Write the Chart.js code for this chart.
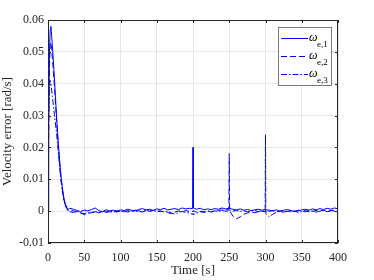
<!DOCTYPE html>
<html>
<head>
<meta charset="utf-8">
<script src="https://cdn.jsdelivr.net/npm/chart.js@4/dist/chart.umd.min.js"></script>
<style>
  html, body { margin: 0; padding: 0; background: #fff; }
  #wrap { width: 374px; height: 280px; }
</style>
</head>
<body>
<div id="wrap"><canvas id="velChart" width="374" height="280"></canvas></div>
<script>
    // Tiempo [s]
    const tiempos = [
        0, 1, 2, 3, 4, 5, 6, 8, 10, 12, 14, 16, 18, 20, 22, 24, 26, 28, 30,
        35, 40, 45, 50, 55, 60, 65, 70, 75, 80, 85, 90, 95, 100, 105, 110, 115, 120,
        125, 130, 135, 140, 145, 150, 155, 160, 165, 170, 175, 180, 185, 190, 195,
        199.5, 200, 200.5,
        205, 210, 215, 220, 225, 230, 235, 240, 245,
        249.5, 250, 250.5,
        255, 260, 265, 270, 275, 280, 285, 290, 295,
        299.5, 300, 300.5,
        305, 310, 315, 320, 325, 330, 335, 340, 345, 350, 355, 360, 365, 370, 375,
        380, 385, 390, 395, 400
    ];

    // omega_e,1 (solid)
    const omegaE1 = [
        0, 0.030, 0.050, 0.057, 0.058, 0.055, 0.052, 0.045, 0.037, 0.029, 0.022, 0.016, 0.011, 0.007, 0.004, 0.0022, 0.0012, 0.0006, 0.0009,
        0.0006, 0.0002, -0.0001, 0.0003, 0.0001, 0.0005, 0.0010, 0.0002, -0.0002, 0.0004, 0.0001, 0.0003, 0.0000, 0.0004, 0.0002, 0.0006, 0.0003,
        0.0001, 0.0005, 0.0008, 0.0004, 0.0006, 0.0002, 0.0007, 0.0005, 0.0009, 0.0004, 0.0006, 0.0008, 0.0005, 0.0010, 0.0007, 0.0009,
        0.0008, 0.0200, 0.0010,
        0.0006, 0.0009, 0.0004, 0.0007, 0.0005, 0.0008, 0.0006, 0.0010, 0.0007,
        0.0009, 0.0011, 0.0008,
        0.0006, 0.0004, 0.0007, 0.0003, 0.0005, 0.0002, 0.0004, 0.0006, 0.0003,
        0.0005, 0.0006, 0.0004,
        0.0003, 0.0001, 0.0004, 0.0000, 0.0003, 0.0005, 0.0002, -0.0002, 0.0001, 0.0004,
        0.0006, 0.0003, 0.0007, 0.0004, 0.0008, 0.0005, 0.0009, 0.0006, 0.0010, 0.0007
    ];

    // omega_e,2 (dashed)
    const omegaE2 = [
        0, 0.025, 0.045, 0.052, 0.053, 0.051, 0.048, 0.042, 0.035, 0.028, 0.021, 0.015, 0.010, 0.0065, 0.0035, 0.0018, 0.0008, 0.0002, 0.0004,
        0.0001, -0.0003, -0.0006, -0.0011, -0.0008, -0.0004, -0.0002, -0.0005, -0.0001, -0.0004, -0.0002, 0.0000, -0.0003, 0.0001, -0.0002, 0.0002, -0.0001,
        0.0003, 0.0000, -0.0003, 0.0002, -0.0001, 0.0003, 0.0001, -0.0002, 0.0000, -0.0004, -0.0008, -0.0003, 0.0001, -0.0002, 0.0002, -0.0001,
        0.0000, -0.0002, 0.0001,
        -0.0003, 0.0000, -0.0002, 0.0001, -0.0003, 0.0000, 0.0002, 0.0004, 0.0003,
        0.0005, 0.0180, 0.0002,
        -0.0016, -0.0024, -0.0018, -0.0010, -0.0006, -0.0003, -0.0005, -0.0002, 0.0000,
        -0.0002, 0.0001, -0.0003,
        -0.0001, 0.0002, -0.0002, 0.0001, -0.0003, -0.0001, 0.0002, -0.0001, 0.0003, 0.0000,
        -0.0002, 0.0002, -0.0001, 0.0003, 0.0000, 0.0004, -0.0002, 0.0003, 0.0001, -0.0001
    ];

    // omega_e,3 (dash-dot)
    const omegaE3 = [
        0, 0.030, 0.040, 0.041, 0.040, 0.038, 0.036, 0.032, 0.028, 0.024, 0.019, 0.014, 0.0095, 0.006, 0.0035, 0.0017, 0.0006, 0.0000, -0.0002,
        -0.0004, -0.0001, -0.0005, -0.0008, -0.0004, -0.0006, -0.0002, -0.0004, 0.0000, -0.0003, -0.0001, -0.0004, 0.0001, -0.0002, 0.0000, -0.0003, 0.0002,
        -0.0001, 0.0001, -0.0002, 0.0003, 0.0000, 0.0002, -0.0001, 0.0001, -0.0003, 0.0000, -0.0006, -0.0009, -0.0004, -0.0001, -0.0004, -0.0006,
        -0.0010, -0.0007, -0.0011,
        -0.0006, -0.0002, -0.0004, 0.0000, -0.0002, 0.0001, -0.0001, 0.0002, 0.0000,
        0.0001, -0.0001, 0.0002,
        0.0000, 0.0002, -0.0001, 0.0001, -0.0002, 0.0000, 0.0002, -0.0001, 0.0001,
        0.0000, 0.0240, -0.0008,
        -0.0018, -0.0010, -0.0004, -0.0001, -0.0003, 0.0000, -0.0002, 0.0001, -0.0004, -0.0001,
        0.0002, -0.0002, 0.0001, -0.0003, 0.0000, 0.0002, -0.0002, 0.0001, -0.0001, 0.0002
    ];

    const xTicks = [0, 50, 100, 150, 200, 250, 300, 350, 400];
    const yTicks = [-0.01, 0, 0.01, 0.02, 0.03, 0.04, 0.05, 0.06];

    const serie = ['\u03c9', 'e,1', 'e,2', 'e,3'];
    const azul = '#0000ff';
    const fuente = "'Liberation Serif', 'DejaVu Serif', serif";

    const toXY = (vals) => tiempos.map((t, i) => ({ x: t, y: vals[i] }));

    // Marco estilo MATLAB con marcas hacia dentro
    const marcoPlugin = {
        id: 'marco',
        afterDraw(chart) {
            const { ctx, chartArea: a, scales } = chart;
            ctx.save();
            ctx.strokeStyle = '#262626';
            ctx.lineWidth = 1;
            ctx.setLineDash([]);
            ctx.strokeRect(a.left + 0.5, a.top + 0.5, a.right - a.left - 1, a.bottom - a.top - 1);
            ctx.beginPath();
            xTicks.forEach(v => {
                const px = Math.round(scales.x.getPixelForValue(v)) + 0.5;
                ctx.moveTo(px, a.bottom); ctx.lineTo(px, a.bottom - 3);
                ctx.moveTo(px, a.top); ctx.lineTo(px, a.top + 3);
            });
            yTicks.forEach(v => {
                const py = Math.round(scales.y.getPixelForValue(v)) + 0.5;
                ctx.moveTo(a.left, py); ctx.lineTo(a.left + 3, py);
                ctx.moveTo(a.right, py); ctx.lineTo(a.right - 3, py);
            });
            ctx.stroke();

            // Leyenda
            const lx = 278, ly = 27, lw = 53, lh = 58;
            ctx.fillStyle = '#ffffff';
            ctx.fillRect(lx, ly, lw, lh);
            ctx.strokeStyle = '#7a7a7a';
            ctx.strokeRect(lx + 0.5, ly + 0.5, lw, lh);
            const dashes = [[], [6, 3], [6, 2, 1.5, 2]];
            chart.data.datasets.forEach((ds, i) => {
                const y = ly + 11.5 + i * 18;
                ctx.strokeStyle = azul;
                ctx.lineWidth = 1;
                ctx.setLineDash(dashes[i]);
                ctx.beginPath();
                ctx.moveTo(lx + 3, y);
                ctx.lineTo(lx + 30, y);
                ctx.stroke();
                ctx.setLineDash([]);
                ctx.fillStyle = '#000';
                ctx.textBaseline = 'alphabetic';
                ctx.font = 'italic 12px ' + fuente;
                ctx.fillText(serie[0], lx + 31, y + 2);
                ctx.font = '9px ' + fuente;
                ctx.fillText(serie[i + 1], lx + 39, y + 8);
            });
            ctx.restore();
        }
    };

    const ctx = document.getElementById('velChart').getContext('2d');
    const velChart = new Chart(ctx, {
        type: 'line',
        data: {
            datasets: [{
                label: 'ωe,1',
                data: toXY(omegaE1),
                borderColor: azul,
                borderWidth: 1,
                pointRadius: 0,
                tension: 0
            },
            {
                label: 'ωe,2',
                data: toXY(omegaE2),
                borderColor: azul,
                borderWidth: 1,
                borderDash: [6, 3],
                pointRadius: 0,
                tension: 0
            },
            {
                label: 'ωe,3',
                data: toXY(omegaE3),
                borderColor: azul,
                borderWidth: 1,
                borderDash: [6, 2, 1.5, 2],
                pointRadius: 0,
                tension: 0
            }]
        },
        options: {
            responsive: false,
            animation: false,
            layout: { padding: { top: 20, right: 36, left: 0, bottom: 0 } },
            plugins: {
                legend: { display: false },
                tooltip: { enabled: false }
            },
            scales: {
                x: {
                    type: 'linear',
                    min: 0,
                    max: 400,
                    afterFit: (s) => { s.height = 37; },
                    afterBuildTicks: (s) => { s.ticks = xTicks.map(v => ({ value: v })); },
                    grid: { color: '#e6e6e6', drawTicks: false },
                    border: { display: false },
                    ticks: { color: '#262626', padding: 8, maxRotation: 0, font: { family: fuente, size: 12 } },
                    title: {
                        display: true,
                        text: 'Time [s]',
                        color: '#262626',
                        padding: { top: 0, bottom: 2 },
                        font: { family: fuente, size: 13 }
                    }
                },
                y: {
                    min: -0.01,
                    max: 0.06,
                    afterFit: (s) => { s.width = 48; },
                    afterBuildTicks: (s) => { s.ticks = yTicks.map(v => ({ value: v })); },
                    grid: { color: '#e6e6e6', drawTicks: false },
                    border: { display: false },
                    ticks: {
                        color: '#262626',
                        padding: 4,
                        font: { family: fuente, size: 12 },
                        callback: (v) => String(+v.toFixed(2))
                    },
                    title: {
                        display: true,
                        text: 'Velocity error [rad/s]',
                        color: '#262626',
                        padding: { top: 0, bottom: 0 },
                        font: { family: fuente, size: 13 }
                    }
                }
            }
        },
        plugins: [marcoPlugin]
    });
</script>
</body>
</html>
